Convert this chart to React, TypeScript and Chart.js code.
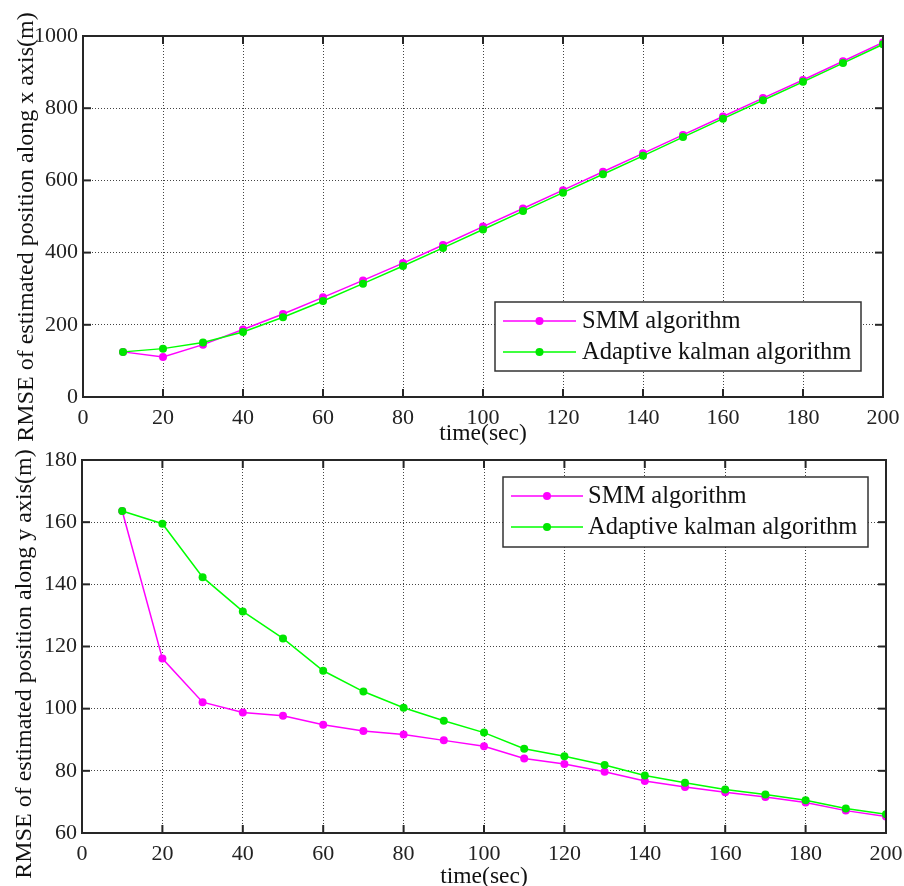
import React, { useEffect, useRef } from "react";
import { Chart, registerables } from "chart.js";
Chart.register(...registerables);

const timeSec = [10, 20, 30, 40, 50, 60, 70, 80, 90, 100, 110, 120, 130, 140, 150, 160, 170, 180, 190, 200];
const xTickValues = [0, 20, 40, 60, 80, 100, 120, 140, 160, 180, 200];

const smmX = [125, 111, 145, 187, 230, 276, 323, 371, 421, 472, 522, 573, 624, 675, 726, 777, 828, 878, 930, 982];
const adaptiveX = [125, 134, 151, 180, 221, 266, 314, 363, 413, 464, 515, 566, 617, 668, 720, 771, 822, 873, 925, 977];
const yTicksTop = [0, 200, 400, 600, 800, 1000];

const smmY = [163.6, 116.1, 102.1, 98.8, 97.7, 94.8, 92.8, 91.7, 89.8, 87.9, 84.0, 82.2, 79.7, 76.7, 74.8, 73.1, 71.6, 69.8, 67.2, 65.3];
const adaptiveY = [163.6, 159.5, 142.3, 131.3, 122.6, 112.2, 105.5, 100.3, 96.1, 92.3, 87.1, 84.7, 81.9, 78.5, 76.2, 74.0, 72.4, 70.5, 67.9, 66.0];
const yTicksBottom = [60, 80, 100, 120, 140, 160, 180];

const seriesNames = ["SMM algorithm", "Adaptive kalman algorithm"];
const xTitle = "time(sec)";
const yTitleTop = "RMSE of estimated position along x axis(m)";
const yTitleBottom = "RMSE of estimated position along y axis(m)";

const FONT = "'Liberation Serif', 'Times New Roman', serif";
const INK = "#262626";
const MAGENTA = "#ff00ff";
const GREEN = "#00ff00";
const GREEN_PT = "#00e600";

type Layout = {
  w: number; h: number;
  left: number; right: number; top: number; bottom: number;
  xTitleY: number; yTitleX: number; yTitleY: number;
  legend: { x: number; y: number; w: number; h: number; rows: number[]; lineX0: number; lineX1: number; textX: number };
};

const matlabPlugin = {
  id: "matlab",
  afterDraw(chart: any) {
    const L: Layout = chart.options.plugins.matlab.layout;
    const { ctx, chartArea: a, scales } = chart;
    ctx.save();
    ctx.strokeStyle = INK;
    ctx.lineWidth = 2;
    const tl = 8;
    const line = (x0: number, y0: number, x1: number, y1: number) => {
      ctx.beginPath(); ctx.moveTo(x0, y0); ctx.lineTo(x1, y1); ctx.stroke();
    };
    scales.x.ticks.forEach((t: any) => {
      const p = scales.x.getPixelForValue(t.value);
      line(p, a.bottom, p, a.bottom - tl);
      line(p, a.top, p, a.top + tl);
    });
    scales.y.ticks.forEach((t: any) => {
      const p = scales.y.getPixelForValue(t.value);
      line(a.left, p, a.left + tl, p);
      line(a.right, p, a.right - tl, p);
    });
    ctx.strokeRect(a.left, a.top, a.right - a.left, a.bottom - a.top);

    // legend
    const lg = L.legend;
    ctx.fillStyle = "#ffffff";
    ctx.fillRect(lg.x, lg.y, lg.w, lg.h);
    ctx.lineWidth = 1.5;
    ctx.strokeStyle = "#333333";
    ctx.strokeRect(lg.x, lg.y, lg.w, lg.h);
    const cols = [[MAGENTA, MAGENTA], [GREEN, GREEN_PT]];
    ctx.font = `24.5px ${FONT}`;
    ctx.textBaseline = "middle";
    ctx.textAlign = "left";
    lg.rows.forEach((ry, i) => {
      ctx.strokeStyle = cols[i][0];
      ctx.lineWidth = 1.5;
      line(lg.lineX0, ry, lg.lineX1, ry);
      ctx.fillStyle = cols[i][1];
      ctx.beginPath();
      ctx.arc((lg.lineX0 + lg.lineX1) / 2, ry, 4, 0, Math.PI * 2);
      ctx.fill();
      ctx.fillStyle = "#111";
      ctx.fillText(seriesNames[i], lg.textX, ry + 1);
    });

    // titles
    ctx.fillStyle = "#111";
    ctx.font = `23.5px ${FONT}`;
    ctx.textAlign = "center";
    ctx.fillText(xTitle, (a.left + a.right) / 2, L.xTitleY);
    ctx.save();
    ctx.translate(L.yTitleX, L.yTitleY);
    ctx.rotate(-Math.PI / 2);
    ctx.font = `24px ${FONT}`;
    ctx.fillText(chart.options.plugins.matlab.yTitle, 0, 0);
    ctx.restore();
    ctx.restore();
  },
};

function makeConfig(L: Layout, smm: number[], adaptive: number[], yTicks: number[], yTitle: string): any {
  const tickFont = { family: FONT, size: 22 };
  return {
    type: "line",
    data: {
      datasets: [
        {
          label: seriesNames[0],
          data: timeSec.map((t, i) => ({ x: t, y: smm[i] })),
          borderColor: MAGENTA, backgroundColor: MAGENTA,
          pointBackgroundColor: MAGENTA, pointBorderWidth: 0, pointRadius: 4,
          borderWidth: 1.5, order: 1,
        },
        {
          label: seriesNames[1],
          data: timeSec.map((t, i) => ({ x: t, y: adaptive[i] })),
          borderColor: GREEN, backgroundColor: GREEN_PT,
          pointBackgroundColor: GREEN_PT, pointBorderWidth: 0, pointRadius: 4,
          borderWidth: 1.5, order: 0,
        },
      ],
    },
    options: {
      animation: false,
      responsive: false,
      layout: { padding: { left: 0, top: L.top, right: L.w - L.right, bottom: 0 } },
      plugins: { legend: { display: false }, tooltip: { enabled: false }, matlab: { layout: L, yTitle } },
      scales: {
        x: {
          type: "linear",
          min: xTickValues[0],
          max: xTickValues[xTickValues.length - 1],
          afterBuildTicks: (s: any) => { s.ticks = xTickValues.map((v) => ({ value: v })); },
          afterFit: (s: any) => { s.height = L.h - L.bottom; s.paddingLeft = 0; s.paddingRight = 0; },
          ticks: { font: tickFont, color: "#222", padding: 8, maxRotation: 0, autoSkip: false, callback: (v: any) => String(v) },
          grid: { color: "#444", lineWidth: 1, drawTicks: false, tickLength: 0 },
          border: { display: false, dash: [1, 2] },
        },
        y: {
          type: "linear",
          min: yTicks[0],
          max: yTicks[yTicks.length - 1],
          afterBuildTicks: (s: any) => { s.ticks = yTicks.map((v) => ({ value: v })); },
          afterFit: (s: any) => { s.width = L.left; s.paddingTop = 0; s.paddingBottom = 0; },
          ticks: { font: tickFont, color: "#222", padding: 5, autoSkip: false, callback: (v: any) => String(v) },
          grid: { color: "#444", lineWidth: 1, drawTicks: false, tickLength: 0 },
          border: { display: false, dash: [1, 2] },
        },
      },
    },
    plugins: [matlabPlugin],
  };
}

const topLayout: Layout = {
  w: 904, h: 450, left: 83, right: 883, top: 36, bottom: 397,
  xTitleY: 434, yTitleX: 27, yTitleY: 227,
  legend: { x: 495, y: 302, w: 366, h: 69, rows: [321, 352], lineX0: 503, lineX1: 576, textX: 582 },
};
const bottomLayout: Layout = {
  w: 904, h: 436, left: 82, right: 886, top: 10, bottom: 383,
  xTitleY: 427, yTitleX: 25, yTitleY: 214,
  legend: { x: 503, y: 27, w: 365, h: 70, rows: [46, 77], lineX0: 511, lineX1: 583, textX: 588 },
};

function Plot({ L, smm, adaptive, yTicks, yTitle, top }: any) {
  const ref = useRef<HTMLCanvasElement>(null);
  useEffect(() => {
    const c = new Chart(ref.current as HTMLCanvasElement, makeConfig(L, smm, adaptive, yTicks, yTitle));
    return () => c.destroy();
  }, []);
  return (
    <canvas ref={ref} width={L.w} height={L.h}
      style={{ position: "absolute", left: 0, top, width: L.w, height: L.h }} />
  );
}

export default function App() {
  return (
    <div style={{ position: "absolute", left: 0, top: 0, width: 904, height: 886, background: "#fff" }}>
      <Plot L={topLayout} smm={smmX} adaptive={adaptiveX} yTicks={yTicksTop} yTitle={yTitleTop} top={0} />
      <Plot L={bottomLayout} smm={smmY} adaptive={adaptiveY} yTicks={yTicksBottom} yTitle={yTitleBottom} top={450} />
    </div>
  );
}
